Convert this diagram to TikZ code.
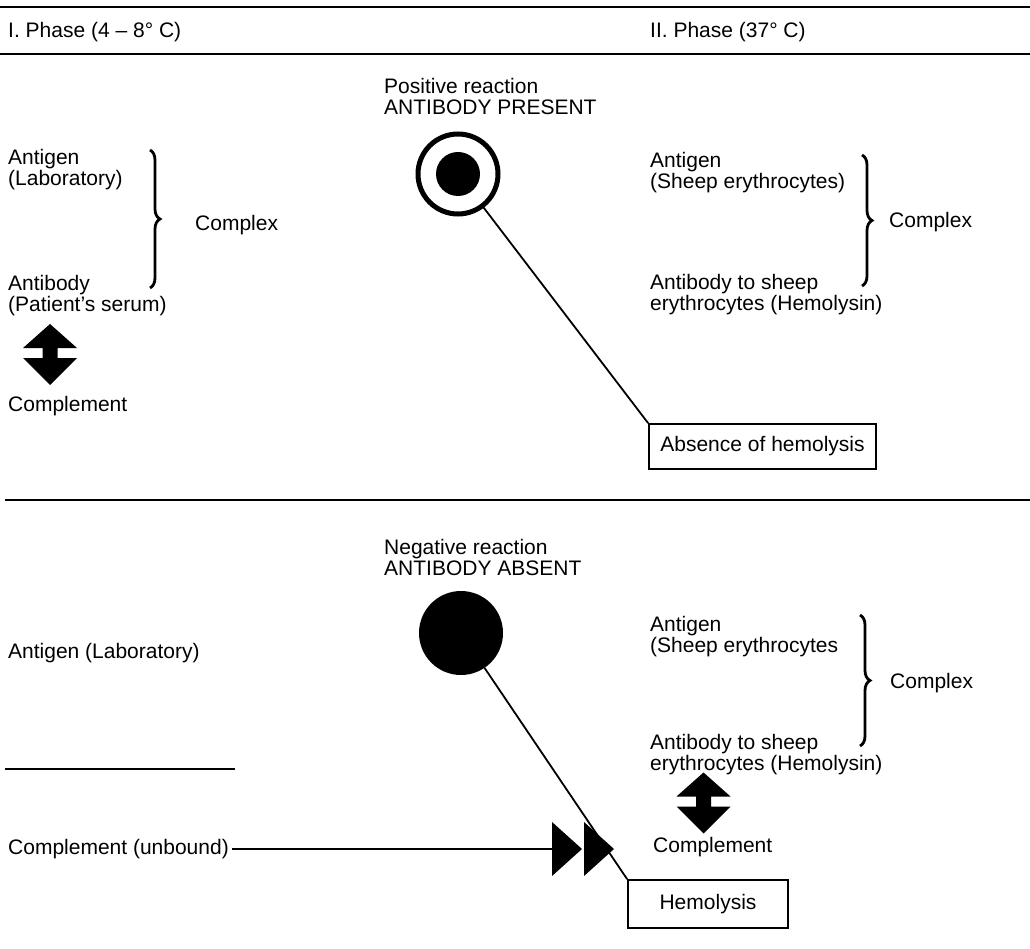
\documentclass[tikz,border=0pt]{standalone}
\usepackage{fontspec}
\setmainfont{Liberation Sans}
\usetikzlibrary{decorations.pathreplacing}
\begin{document}
\begin{tikzpicture}[x=1pt,y=-1pt,
  txt/.style={anchor=base west,inner sep=0pt,align=left,font=\fontsize{21}{21}\selectfont},
  rule/.style={line width=1.8pt},
  conn/.style={line width=1.8pt},
  box/.style={draw,line width=1.8pt,inner sep=0pt,font=\fontsize{21}{21}\selectfont},
  brc/.style={decorate,decoration={brace,amplitude=10pt},line width=2.8pt},
  updown/.pic={\fill (0,-30.5) -- (27,-6.5) -- (7.5,-6.5) -- (7.5,3.5) -- (27,3.5) -- (0,30.5) -- (-27,3.5) -- (-7.5,3.5) -- (-7.5,-6.5) -- (-27,-6.5) -- cycle;},
  tri/.pic={\fill (0,-27) -- (30,0) -- (0,27) -- cycle;}]
\useasboundingbox (0,0) rectangle (1030,949);
% rules
\coordinate (r1a) at (0,7); \coordinate (r1b) at (1030,7);
\coordinate (r2a) at (0,54); \coordinate (r2b) at (1030,54);
\coordinate (r3a) at (5,500); \coordinate (r3b) at (1030,500);
\coordinate (r4a) at (5,769); \coordinate (r4b) at (235,769);
\draw[rule] (r1a) -- (r1b);
\draw[rule] (r2a) -- (r2b);
\draw[rule] (r3a) -- (r3b);
\draw[rule] (r4a) -- (r4b);
% headings
\node[txt] (ph1) at (8,38) {I. Phase (4 -- 8° C)};
\node[txt] (ph2) at (650,38) {II. Phase (37° C)};
% upper left
\node[txt] (ag1) at (8,186) {Antigen\\(Laboratory)};
\node[txt] (ab1) at (8,312) {Antibody\\(Patient’s serum)};
\draw[brc] (150,150) -- (150,288);
\node[txt] (cx1) at (195,231) {Complex};
\pic at (50,354.5) {updown};
\node[txt] (cm1) at (8,411) {Complement};
% upper middle
\node[txt] (pos) at (384,115) {Positive reaction\\ANTIBODY PRESENT};
\node[circle,draw,line width=5pt,minimum size=80pt,inner sep=0pt] (ring) at (458,174) {};
\fill (458,174) circle (22);
\node[box,minimum width=227pt,minimum height=45pt] (abs) at (762.5,446.5) {Absence of hemolysis};
\draw[conn] (ring) -- (abs.north west);
% upper right
\node[txt] (ag2) at (650,189) {Antigen\\(Sheep erythrocytes)};
\node[txt] (ab2) at (650,311) {Antibody to sheep\\erythrocytes (Hemolysin)};
\draw[brc] (862,155) -- (862,286);
\node[txt] (cx2) at (889,228) {Complex};
% lower middle
\node[txt] (neg) at (384,575) {Negative reaction\\ANTIBODY ABSENT};
\node[circle,fill,minimum size=84pt,inner sep=0pt] (disk) at (461,633) {};
\node[box,minimum width=160pt,minimum height=48pt] (hem) at (708,904) {Hemolysis};
\draw[conn] (disk) -- (hem.north west);
% lower left
\node[txt] (ag3) at (8,658) {Antigen (Laboratory)};
\node[txt,anchor=west] (cu) at (8,849) {Complement (unbound)};
\coordinate (t1) at (552,849);
\draw[conn] (cu.east) ++(3,0) -- (t1);
\pic at (t1) {tri};
\pic at (584,849) {tri};
% lower right
\node[txt] (ag4) at (650,652) {Antigen\\(Sheep erythrocytes};
\node[txt] (ab4) at (650,770) {Antibody to sheep\\erythrocytes (Hemolysin)};
\draw[brc] (860,615) -- (860,746);
\node[txt] (cx4) at (890,688) {Complex};
\pic at (703.5,803) {updown};
\node[txt] (cm4) at (653,852) {Complement};
\end{tikzpicture}
\end{document}
